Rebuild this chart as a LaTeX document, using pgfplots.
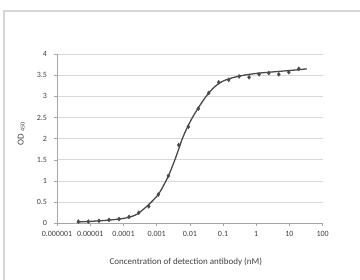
\documentclass[border=0pt]{standalone}
\usepackage{fontspec}
\setmainfont{Carlito}
\usepackage{pgfplots}
\pgfplotsset{compat=1.18}
\definecolor{gridc}{HTML}{D9D9D9}
\definecolor{axc}{HTML}{A6A6A6}
\definecolor{curvec}{HTML}{4A4A4A}
\definecolor{framec}{HTML}{D6D6D6}
\definecolor{textc}{HTML}{404040}
\begin{document}
\begin{tikzpicture}
\useasboundingbox (-57pt,-56.7pt) rectangle (303pt,223.3pt);
\draw[framec, line width=1.6pt] (-53pt,-56.7pt) -- (-53pt,212.3pt) -- (303pt,212.3pt);
\begin{axis}[
  scale only axis, width=265.7pt, height=169.3pt,
  xmode=log, log basis x=10,
  xmin=1e-6, xmax=100, ymin=0, ymax=4,
  xtick={1e-6,1e-5,1e-4,1e-3,1e-2,1e-1,1,10,100},
  xticklabels={0.000001,0.00001,0.0001,0.001,0.01,0.1,1,10,100},
  xminorticks=false,
  ytick={0,0.5,1,1.5,2,2.5,3,3.5,4},
  yticklabels={0,0.5,1,1.5,2,2.5,3,3.5,4},
  axis lines*=left,
  axis line style={axc, line width=0.7pt, -},
  tick align=outside, major tick length=3pt,
  tick style={axc, line width=0.6pt},
  xtick pos=bottom, ytick pos=left,
  ymajorgrids, grid style={gridc, line width=0.9pt},
  tick label style={font=\fontsize{8}{9}\selectfont, text=textc},
  xticklabel style={yshift=-1.5pt},
  yticklabel style={xshift=-3.5pt},
  xlabel={Concentration of detection antibody (nM)},
  xlabel style={at={(axis description cs:0.485,-0.227)}, anchor=center, font=\fontsize{9}{10}\selectfont, text=textc},
  ylabel={OD \textsubscript{450}},
  ylabel style={at={(axis description cs:-0.135,0.530)}, anchor=center, font=\fontsize{9}{10}\selectfont, text=textc},
  clip=false,
]
% fitted curve
\addplot[curvec, line width=1.3pt, smooth, tension=0.5, mark=none] coordinates {
(3.98e-6,0.03) (1e-5,0.045) (2.51e-5,0.065) (5.01e-5,0.085) (1e-4,0.115)
(1.585e-4,0.15) (2.512e-4,0.21) (3.981e-4,0.33) (5.754e-4,0.44) (7.943e-4,0.55)
(1.122e-3,0.68) (1.585e-3,0.88) (2.239e-3,1.11) (2.818e-3,1.30) (3.548e-3,1.50)
(4.467e-3,1.72) (5.623e-3,1.95) (7.079e-3,2.14) (8.913e-3,2.31) (0.01259,2.53)
(0.01778,2.72) (0.02512,2.90) (0.03548,3.06) (0.05012,3.19) (0.07079,3.29)
(0.1,3.36) (0.1585,3.42) (0.3162,3.48) (0.631,3.52) (1.259,3.55)
(2.512,3.57) (5.012,3.59) (10,3.61) (19.95,3.63) (33.1,3.65)
};
% measured points
\addplot[only marks, mark=diamond*, mark size=2pt, curvec] coordinates {
(4.39e-6,0.04) (8.77e-6,0.04) (1.84e-5,0.06) (3.68e-5,0.08) (7.36e-5,0.10)
(1.476e-4,0.15) (2.89e-4,0.25) (5.78e-4,0.40) (1.125e-3,0.68) (2.25e-3,1.12)
(4.63e-3,1.85) (9.02e-3,2.28) (0.01803,2.71) (0.0371,3.08) (0.0741,3.33)
(0.1486,3.39) (0.3034,3.47) (0.6067,3.45) (1.213,3.52) (2.382,3.55)
(4.764,3.52) (9.528,3.57) (19.05,3.65)
};
\end{axis}
\end{tikzpicture}
\end{document}
